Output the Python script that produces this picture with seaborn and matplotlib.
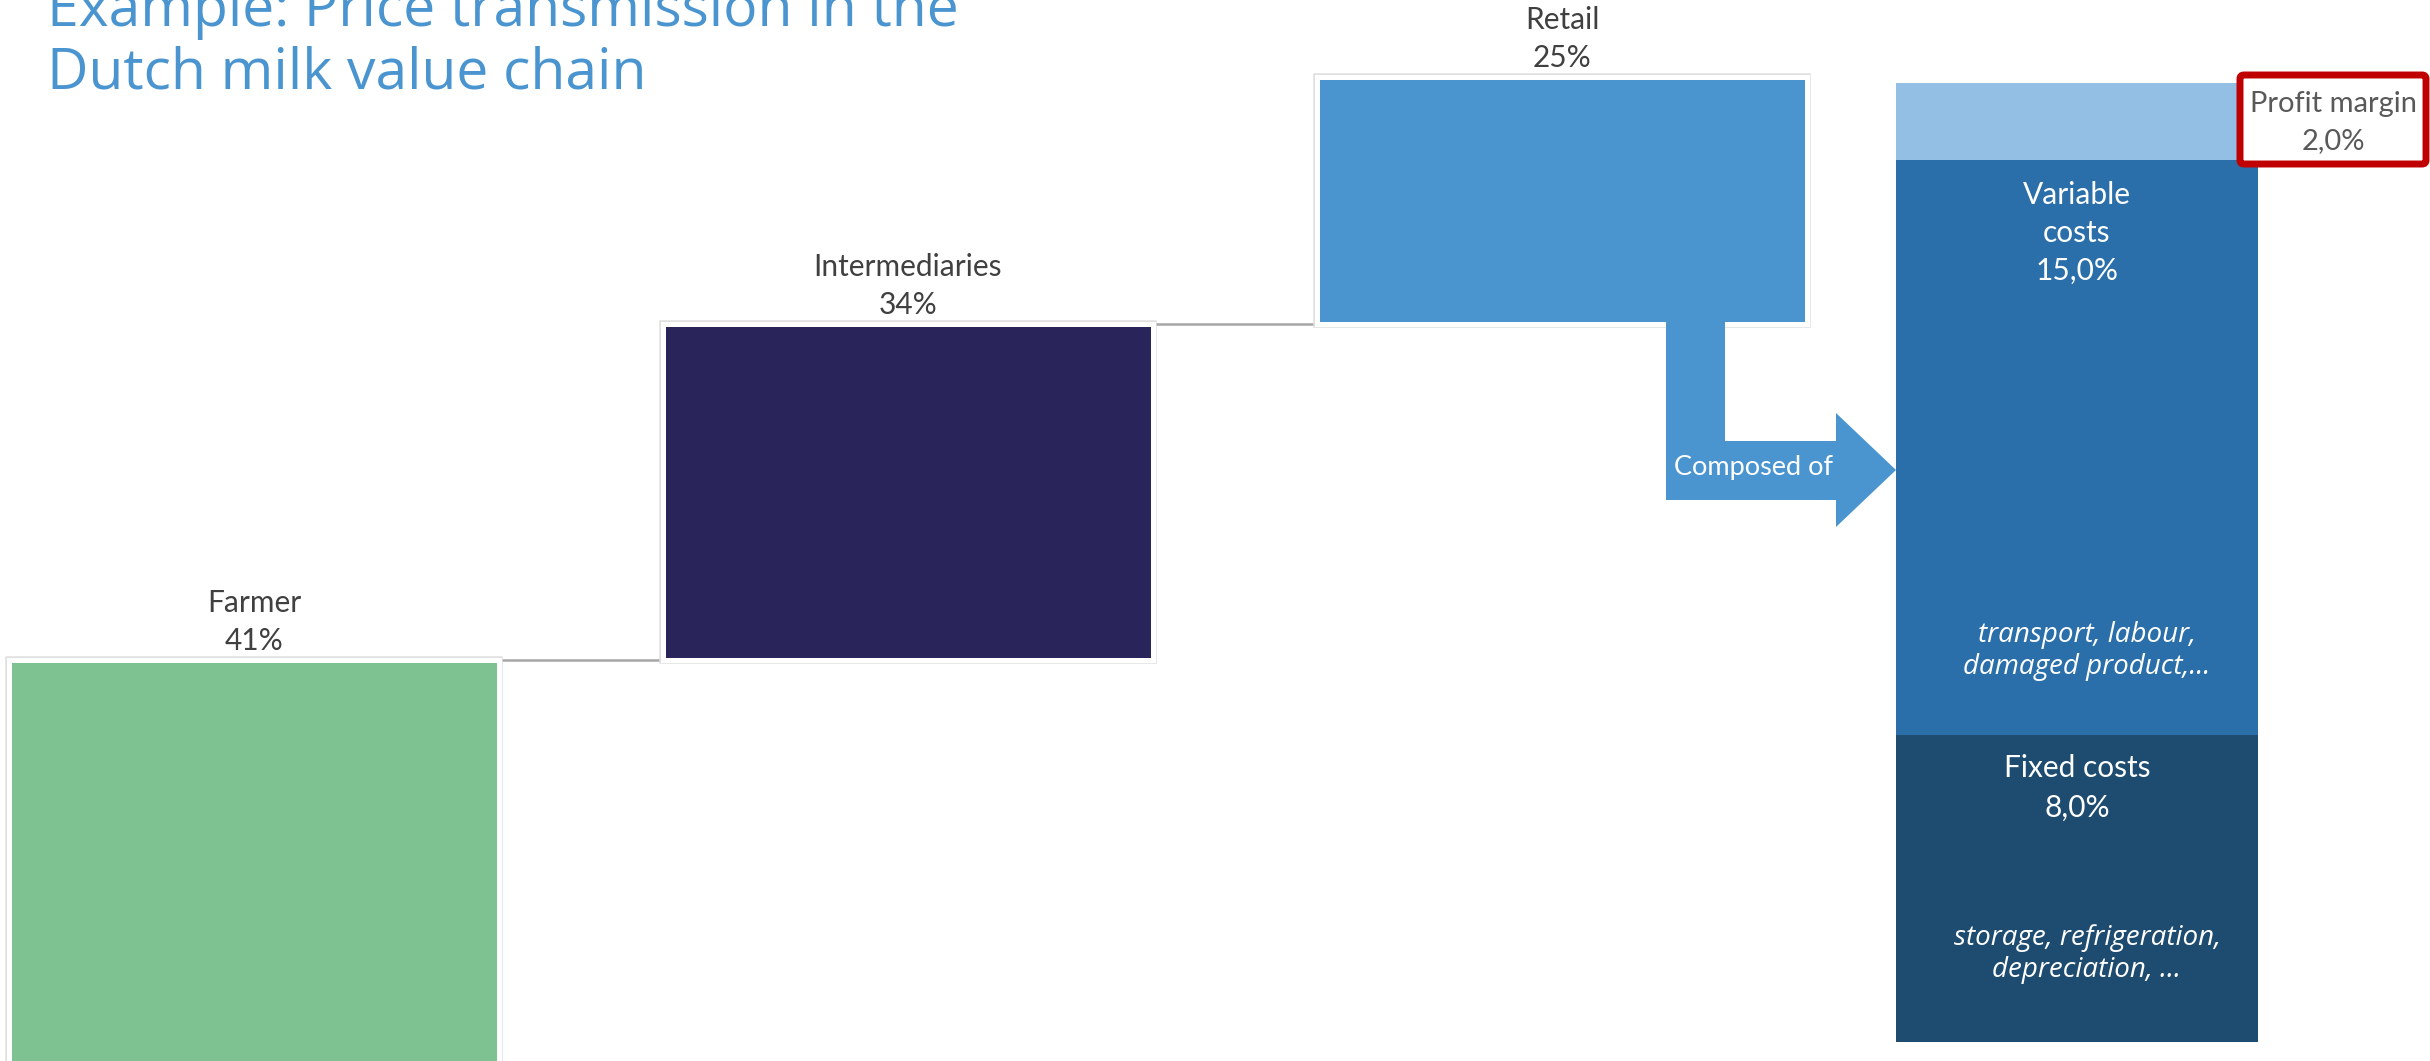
import matplotlib
matplotlib.use("Agg")
import matplotlib.pyplot as plt
import matplotlib.patheffects as pe
from matplotlib.patches import Polygon, FancyBboxPatch
from matplotlib.transforms import Affine2D
import seaborn as sns
import pandas as pd

# Share of the consumer price captured at each stage of the chain (%)
stages = ["Farmer", "Intermediaries", "Retail"]
shares = [41, 34, 25]
stage_colors = ["#7fc291", "#29245a", "#4a95d0"]

# Breakdown of the retail share (% of consumer price), bottom to top
retail_parts = ["Fixed costs", "Variable costs", "Profit margin"]
retail_values = [8.0, 15.0, 2.0]
retail_colors = ["#1e4c71", "#2a6fa9", "#92bfe3"]
variable_examples = ["transport, labour,", "damaged product,..."]
fixed_examples = ["storage, refrigeration,", "depreciation, ..."]

title_lines = ["Example: Price transmission in the", "Dutch milk value chain"]

W, H = 2430, 1061
sns.set_style("white")
plt.rcParams["font.family"] = ["Lato", "DejaVu Sans"]

LABEL = "#404040"
LSIZE = 21.5
fig = plt.figure(figsize=(W / 100, H / 100), dpi=100)

# pixel-based helper transform (origin top-left)
px = Affine2D().scale(1 / W, -1 / H).translate(0, 1) + fig.transFigure


def put(x, y, s, **kw):
    kw.setdefault("ha", "center")
    kw.setdefault("va", "center")
    fig.text(x / W, 1 - y / H, s, **kw)


def pct(v):
    return f"{v:.1f}%".replace(".", ",")


# ---- waterfall of the value chain ----
ax = fig.add_axes([0, 0, 1, 1])
starts = [sum(shares[:i]) for i in range(len(shares))]
df = pd.DataFrame({"stage": stages, "share": shares, "start": starts})
sns.barplot(data=df, x="stage", y="share", bottom=df["start"].to_numpy(),
            width=0.75, errorbar=None, color=stage_colors[0], saturation=1,
            edgecolor="white", linewidth=3.6, ax=ax, zorder=2)
for patch, col in zip(ax.patches, stage_colors):
    patch.set_facecolor(col)
    patch.set_path_effects([pe.Stroke(linewidth=5.4, foreground="#e0e0e0"),
                            pe.Normal()])

half = 0.75 / 2
for i in range(len(shares) - 1):
    level = starts[i] + shares[i]
    ax.plot([i + half, i + 1 - half], [level, level], color="#a6a6a6",
            lw=1.8, zorder=1, solid_capstyle="butt")

for i, (name, val) in enumerate(zip(stages, shares)):
    top = starts[i] + val
    ax.annotate(f"{val}%", xy=(i, top), xytext=(0, 19),
                textcoords="offset pixels", ha="center", va="center",
                fontsize=LSIZE, color=LABEL)
    ax.annotate(name, xy=(i, top), xytext=(0, 57),
                textcoords="offset pixels", ha="center", va="center",
                fontsize=LSIZE, color=LABEL)

ax.set_xlim(-254 / 654, (W - 254) / 654)
ax.set_ylim((1065 - H) / 9.88, 1065 / 9.88)
ax.axis("off")

# ---- "Composed of" arrow from the retail bar ----
arrow_pts = [(1666, 300), (1725, 300), (1725, 441), (1836, 441), (1836, 413),
             (1896, 470), (1836, 527), (1836, 500), (1666, 500)]
ax.add_patch(Polygon(arrow_pts, closed=True, transform=px, facecolor="#4a95d0",
                     edgecolor="none", zorder=5, clip_on=False))
put(1754, 467, "Composed of", color="white", fontsize=19.5, zorder=6)

# ---- stacked breakdown of the retail share ----
ax2 = fig.add_axes([1896 / W, (H - 1042) / H, (2258 - 1896) / W, (1042 - 83) / H])
base = 0.0
for part, val, col in zip(retail_parts, retail_values, retail_colors):
    sns.barplot(x=["Retail"], y=[val], bottom=base, width=1.0, color=col,
                saturation=1, linewidth=0, errorbar=None, ax=ax2)
    base += val
ax2.set_xlim(-0.5, 0.5)
ax2.set_ylim(0, sum(retail_values))
ax2.axis("off")

cx = 2077
put(cx, 195, "Variable", color="white", fontsize=LSIZE)
put(cx, 233, "costs", color="white", fontsize=LSIZE)
put(cx, 271, pct(retail_values[1]), color="white", fontsize=LSIZE)
put(cx, 768, retail_parts[0], color="white", fontsize=LSIZE)
put(cx, 808, pct(retail_values[0]), color="white", fontsize=LSIZE)

ital = dict(color="white", fontsize=20, family=["Open Sans", "DejaVu Sans"],
            style="italic")
for k, line in enumerate(variable_examples):
    put(2087, 635 + 32 * k, line, **ital)
for k, line in enumerate(fixed_examples):
    put(2087, 938 + 32 * k, line, **ital)

# ---- highlighted profit margin callout ----
fig.patches.append(FancyBboxPatch((2240, 75), 186, 89,
                                  boxstyle="round,pad=0,rounding_size=4",
                                  transform=px, facecolor="white",
                                  edgecolor="#c00000", linewidth=5.0,
                                  zorder=7))
put(2333, 104, retail_parts[2], color="#595959", fontsize=21, zorder=8)
put(2333, 141, pct(retail_values[2]), color="#595959", fontsize=21, zorder=8)

# ---- title ----
for k, line in enumerate(title_lines):
    fig.text(47 / W, 1 - (12 + 62 * k) / H, line, ha="left", va="center",
             fontsize=41, color="#4a95d0", family=["Open Sans", "DejaVu Sans"])

fig.savefig("out.png", dpi=100)
